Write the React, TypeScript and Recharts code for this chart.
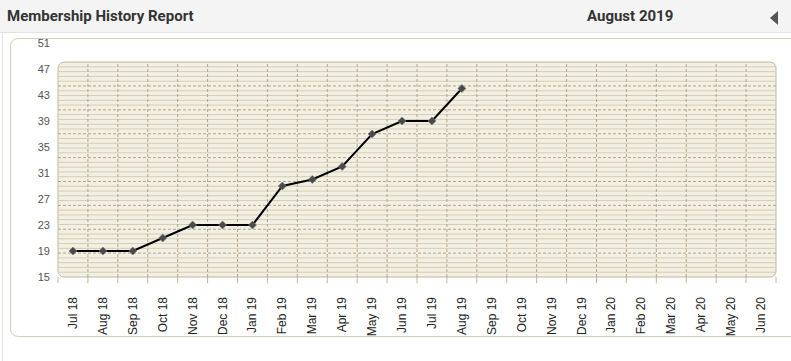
import React from 'react';
import { LineChart, Line, XAxis, YAxis, ReferenceArea, ReferenceLine } from 'recharts';

const months = [
  'Jul 18', 'Aug 18', 'Sep 18', 'Oct 18', 'Nov 18', 'Dec 18',
  'Jan 19', 'Feb 19', 'Mar 19', 'Apr 19', 'May 19', 'Jun 19',
  'Jul 19', 'Aug 19', 'Sep 19', 'Oct 19', 'Nov 19', 'Dec 19',
  'Jan 20', 'Feb 20', 'Mar 20', 'Apr 20', 'May 20', 'Jun 20',
];
const members = [19, 19, 19, 21, 23, 23, 23, 29, 30, 32, 37, 39, 39, 44];
const yTicks = [15, 19, 23, 27, 31, 35, 39, 43, 47, 51];

// background grid helper scales (styling only)
const gridCols = Array.from({ length: 25 }, (_, i) => i);
const gridRows = Array.from({ length: 46 }, (_, i) => i);

const data = months.map((m, i) => ({
  month: m,
  members: i < members.length ? members[i] : null,
  gx: i + 0.5,
}));

const TAN = '#c2b69e';
const FONT = '"Liberation Sans", Arial, sans-serif';

const XTick = (props: any) => {
  const { x, y, payload } = props;
  return (
    <g transform={`translate(${x},${y})`}>
      <text transform="rotate(-90)" x={-12} y={4} textAnchor="end" fontSize={12} fill="#222" fontFamily={FONT}>
        {payload.value}
      </text>
    </g>
  );
};

const Diamond = (props: any) => {
  const { cx, cy } = props;
  if (cx == null || cy == null || props.value == null) return null;
  return (
    <path
      d={`M${cx},${cy - 4}L${cx + 4},${cy}L${cx},${cy + 4}L${cx - 4},${cy}Z`}
      fill="#4a4a4a"
      stroke="#777"
      strokeWidth={0.6}
    />
  );
};

export default function App() {
  return (
    <div style={{ position: 'relative', width: 791, height: 361, background: '#fff', overflow: 'hidden' }}>
      <style>{'body{margin:0}'}</style>
      <div
        style={{
          position: 'absolute', left: 0, top: 0, width: 791, height: 32,
          background: '#f4f4f4', borderBottom: '1px solid #e3e3e3',
        }}
      />
      <div style={{ position: 'absolute', left: 7, top: 7, fontFamily: 'Roboto, sans-serif', fontWeight: 700, fontSize: 15, color: '#333' }}>
        Membership History Report
      </div>
      <div style={{ position: 'absolute', left: 587, top: 7, fontFamily: 'Roboto, sans-serif', fontWeight: 700, fontSize: 15, color: '#333' }}>
        August 2019
      </div>
      <div
        style={{
          position: 'absolute', left: 770, top: 11, width: 0, height: 0,
          borderTop: '7px solid transparent', borderBottom: '7px solid transparent', borderRight: '8px solid #555',
        }}
      />
      <div style={{ position: 'absolute', left: 2, top: 33, width: 1, height: 328, background: '#e2e2e2' }} />
      <div
        style={{
          position: 'absolute', left: 10, top: 38, width: 800, height: 297,
          border: '1px solid #d8cdb8', borderRadius: 8, background: '#fff',
        }}
      />
      <div style={{ position: 'absolute', left: 0, top: 0 }}>
        <LineChart width={791} height={361} data={data} margin={{ top: 43, right: 15, left: 0, bottom: 0 }}>
          <XAxis
            xAxisId="gx"
            dataKey="gx"
            type="number"
            domain={[0, 24]}
            allowDataOverflow
            hide
          />
          <XAxis
            dataKey="month"
            scale="band"
            height={84}
            interval={0}
            tickLine={false}
            axisLine={false}
            tick={<XTick />}
          />
          <YAxis yAxisId="grid" type="number" domain={[0, 49]} allowDataOverflow hide />
          <YAxis
            type="number"
            domain={[15, 51]}
            ticks={yTicks}
            interval={0}
            width={58}
            tickLine={false}
            axisLine={false}
            tick={{ fontSize: 11, fill: '#555', fontFamily: FONT }}
          />
          <ReferenceArea
            xAxisId="gx"
            yAxisId="grid"
            x1={0}
            x2={24}
            y1={0}
            y2={45}
            fill="#f2f0e3"
            fillOpacity={1}
            stroke={TAN}
            strokeWidth={1}
            radius={6}
            ifOverflow="visible"
          />
          {gridRows
            .filter((v) => v > 0 && v < 45 && v % 5 !== 0)
            .map((v) => (
              <ReferenceLine
                key={`h${v}`}
                xAxisId="gx"
                yAxisId="grid"
                segment={[{ x: 0, y: v }, { x: 24, y: v }]}
                stroke="#d6ccb6"
                strokeWidth={1}
                ifOverflow="visible"
              />
            ))}
          {gridRows
            .filter((v) => v > 0 && v < 45 && v % 5 === 0)
            .map((v) => (
              <ReferenceLine
                key={`H${v}`}
                xAxisId="gx"
                yAxisId="grid"
                segment={[{ x: 0, y: v }, { x: 24, y: v }]}
                stroke="#b3a58b"
                strokeDasharray="3 2"
                strokeWidth={1}
                ifOverflow="visible"
              />
            ))}
          {gridCols
            .filter((v) => v > 0 && v < 24)
            .map((v) => (
              <ReferenceLine
                key={`v${v}`}
                xAxisId="gx"
                yAxisId="grid"
                segment={[{ x: v, y: 0 }, { x: v, y: 45 }]}
                stroke="#b3a58b"
                strokeDasharray="3 2"
                strokeWidth={1}
                ifOverflow="visible"
              />
            ))}
          {gridCols.map((v) => (
            <ReferenceLine
              key={`t${v}`}
              xAxisId="gx"
              yAxisId="grid"
              segment={[{ x: v, y: -1.3 }, { x: v, y: 0 }]}
              stroke={TAN}
              strokeWidth={1}
              ifOverflow="visible"
            />
          ))}
          <Line
            type="linear"
            dataKey="members"
            stroke="#000"
            strokeWidth={2}
            dot={<Diamond />}
            activeDot={false}
            isAnimationActive={false}
          />
        </LineChart>
      </div>
    </div>
  );
}
